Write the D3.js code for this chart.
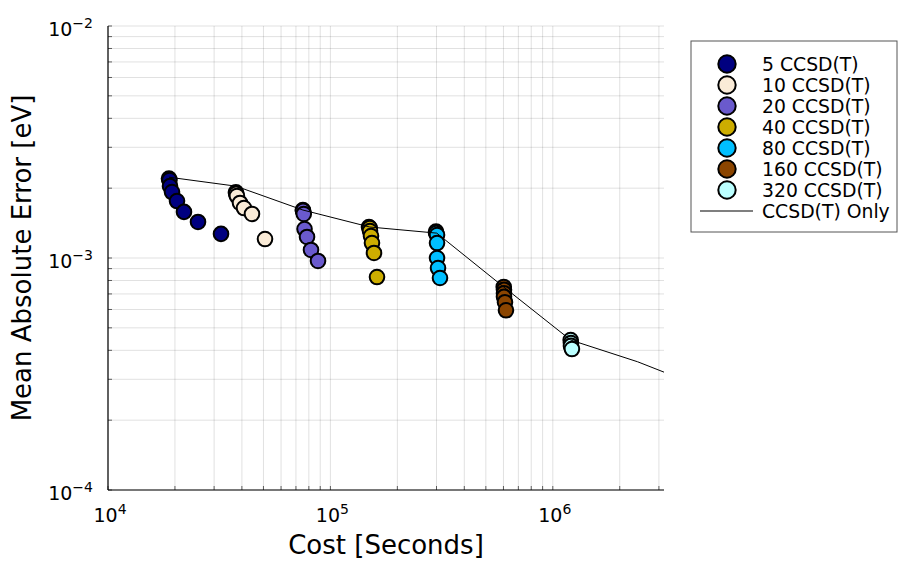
<!DOCTYPE html>
<html>
<head>
<meta charset="utf-8">
<script src="https://cdn.jsdelivr.net/npm/d3@7"></script>
<style>
  body { margin: 0; background: #fff; }
  text { font-family: "DejaVu Sans", sans-serif; }
</style>
</head>
<body>
<div id="chart"></div>
<script>
// series names and colours
var seriesNames = ["5 CCSD(T)", "10 CCSD(T)", "20 CCSD(T)", "40 CCSD(T)", "80 CCSD(T)", "160 CCSD(T)", "320 CCSD(T)"];
var seriesColors = ["#000080", "#faebd7", "#6a5acd", "#cdad00", "#00bfff", "#8b4500", "#bbffff"];

// cost [s] and mean absolute error [eV] for each group
var cost5 = [18800, 18900, 19000, 19400, 20430, 21960, 25390, 32220];
var mae5 = [2.20e-3, 2.17e-3, 2.04e-3, 1.925e-3, 1.76e-3, 1.58e-3, 1.43e-3, 1.27e-3];
var cost10 = [37600, 37700, 37990, 39230, 40880, 44400, 50810];
var mae10 = [1.92e-3, 1.89e-3, 1.85e-3, 1.727e-3, 1.642e-3, 1.548e-3, 1.207e-3];
var cost20 = [75200, 75320, 75900, 76500, 78500, 81800, 87960];
var mae20 = [1.61e-3, 1.596e-3, 1.548e-3, 1.333e-3, 1.232e-3, 1.083e-3, 9.71e-4];
var cost40 = [149130, 150400, 150700, 152250, 153800, 157030, 162000];
var mae40 = [1.36e-3, 1.346e-3, 1.307e-3, 1.244e-3, 1.16e-3, 1.051e-3, 8.28e-4];
var cost80 = [298500, 298800, 301600, 301600, 301600, 304700, 311000];
var mae80 = [1.30e-3, 1.28e-3, 1.256e-3, 1.16e-3, 1.0e-3, 9.05e-4, 8.2e-4];
var cost160 = [601600, 603300, 603300, 603300, 609500, 615800];
var mae160 = [7.5e-4, 7.3e-4, 7.05e-4, 6.8e-4, 6.45e-4, 5.95e-4];
var cost320 = [1203200, 1207000, 1207000, 1219000];
var mae320 = [4.43e-4, 4.30e-4, 4.18e-4, 4.05e-4];

var groupCosts = [cost5, cost10, cost20, cost40, cost80, cost160, cost320];
var groupErrors = [mae5, mae10, mae20, mae40, mae80, mae160, mae320];

// CCSD(T)-only reference line
var lineCost = [18800, 37600, 75200, 150400, 300800, 601600, 1203200, 2406400, 4812800];
var lineMae = [2.23e-3, 2.04e-3, 1.61e-3, 1.36e-3, 1.28e-3, 7.5e-4, 4.43e-4, 3.57e-4, 2.75e-4];

var xTicks = [1e4, 1e5, 1e6];
var yTicks = [1e-4, 1e-3, 1e-2];

var W = 898, H = 561;
var plot = {left: 108, right: 664, top: 26, bottom: 490};

var svg = d3.select("#chart")
  .append("svg")
    .attr("width", W)
    .attr("height", H);

var x = d3.scaleLog()
  .domain([1e4, Math.pow(10, 6.5)])
  .range([plot.left, plot.right]);

var y = d3.scaleLog()
  .domain([1e-4, 1e-2])
  .range([plot.bottom, plot.top]);

// minor + major grid positions
var xGrid = [];
for (var e = 4; e <= 6; e++) {
  for (var m = 1; m <= 9; m++) {
    var v = m * Math.pow(10, e);
    if (v <= x.domain()[1]) xGrid.push(v);
  }
}
var yGrid = [];
for (var e2 = -4; e2 <= -3; e2++) {
  for (var m2 = 1; m2 <= 9; m2++) yGrid.push(m2 * Math.pow(10, e2));
}
yGrid.push(1e-2);

var grid = svg.append("g");
grid.selectAll(".gx")
  .data(xGrid)
  .enter().append("line")
    .attr("x1", d => x(d)).attr("x2", d => x(d))
    .attr("y1", plot.top).attr("y2", plot.bottom)
    .style("stroke", "#000")
    .style("stroke-opacity", 0.12)
    .style("stroke-width", 1);
grid.selectAll(".gy")
  .data(yGrid)
  .enter().append("line")
    .attr("x1", plot.left).attr("x2", plot.right)
    .attr("y1", d => y(d)).attr("y2", d => y(d))
    .style("stroke", "#000")
    .style("stroke-opacity", 0.12)
    .style("stroke-width", 1);

// axis ticks (pointing inward)
var ticks = svg.append("g");
ticks.selectAll(".tx")
  .data(xGrid)
  .enter().append("line")
    .attr("x1", d => x(d)).attr("x2", d => x(d))
    .attr("y1", plot.bottom).attr("y2", plot.bottom - 4)
    .style("stroke", "#000").style("stroke-opacity", 0.6);
ticks.selectAll(".ty")
  .data(yGrid)
  .enter().append("line")
    .attr("x1", plot.left).attr("x2", plot.left + 4)
    .attr("y1", d => y(d)).attr("y2", d => y(d))
    .style("stroke", "#000").style("stroke-opacity", 0.6);

// spines
svg.append("line")
  .attr("x1", plot.left).attr("x2", plot.left)
  .attr("y1", plot.top).attr("y2", plot.bottom)
  .style("stroke", "#000").style("stroke-width", 1.2);
svg.append("line")
  .attr("x1", plot.left).attr("x2", plot.right)
  .attr("y1", plot.bottom).attr("y2", plot.bottom)
  .style("stroke", "#000").style("stroke-width", 1.2);

// tick labels: 10^n
function expLabel(sel, v) {
  var n = Math.round(Math.log10(v));
  sel.append("tspan").text("10");
  sel.append("tspan")
    .attr("dy", -8)
    .style("font-size", "14px")
    .text(n < 0 ? "\u2212" + (-n) : String(n));
}

xTicks.forEach(function(v) {
  var t = svg.append("text")
    .attr("x", x(v) + 2)
    .attr("y", 522)
    .attr("text-anchor", "middle")
    .style("font-size", "19px");
  expLabel(t, v);
});
yTicks.forEach(function(v) {
  var t = svg.append("text")
    .attr("x", 93)
    .attr("y", y(v) + 10)
    .attr("text-anchor", "end")
    .style("font-size", "19px");
  expLabel(t, v);
});

// axis titles
svg.append("text")
  .attr("x", (plot.left + plot.right) / 2)
  .attr("y", 554)
  .attr("text-anchor", "middle")
  .style("font-size", "26px")
  .text("Cost [Seconds]");
svg.append("text")
  .attr("transform", "translate(31," + ((plot.top + plot.bottom) / 2) + ") rotate(-90)")
  .attr("text-anchor", "middle")
  .style("font-size", "26px")
  .text("Mean Absolute Error [eV]");

// clip for data
svg.append("clipPath").attr("id", "clip")
  .append("rect")
    .attr("x", plot.left).attr("y", plot.top)
    .attr("width", plot.right - plot.left)
    .attr("height", plot.bottom - plot.top);

var data = svg.append("g").attr("clip-path", "url(#clip)");

groupCosts.forEach(function(costs, i) {
  var pts = costs.map((c, j) => ({c: c, e: groupErrors[i][j]}));
  data.append("g").selectAll("circle")
    .data(pts)
    .enter().append("circle")
      .attr("cx", d => x(d.c))
      .attr("cy", d => y(d.e))
      .attr("r", 7.3)
      .style("fill", seriesColors[i])
      .style("stroke", "#000")
      .style("stroke-width", 2);
});

var line = d3.line()
  .x(d => x(d.c))
  .y(d => y(d.e));
data.append("path")
  .datum(lineCost.map((c, j) => ({c: c, e: lineMae[j]})))
  .attr("d", line)
  .style("fill", "none")
  .style("stroke", "#000")
  .style("stroke-width", 1);

// legend
var legend = svg.append("g");
legend.append("rect")
  .attr("x", 691).attr("y", 41)
  .attr("width", 206).attr("height", 191)
  .style("fill", "#fff")
  .style("stroke", "#555")
  .style("stroke-width", 1);

seriesNames.forEach(function(name, i) {
  var ly = 64 + i * 21;
  legend.append("circle")
    .attr("cx", 727).attr("cy", ly)
    .attr("r", 8.7)
    .style("fill", seriesColors[i])
    .style("stroke", "#000")
    .style("stroke-width", 2);
  legend.append("text")
    .attr("x", 762).attr("y", ly + 6.5)
    .style("font-size", "18.8px")
    .text(name);
});
legend.append("line")
  .attr("x1", 700).attr("x2", 753)
  .attr("y1", 211).attr("y2", 211)
  .style("stroke", "#000").style("stroke-width", 1.2);
legend.append("text")
  .attr("x", 762).attr("y", 217.5)
  .style("font-size", "18.8px")
  .text("CCSD(T) Only");
</script>
</body>
</html>
